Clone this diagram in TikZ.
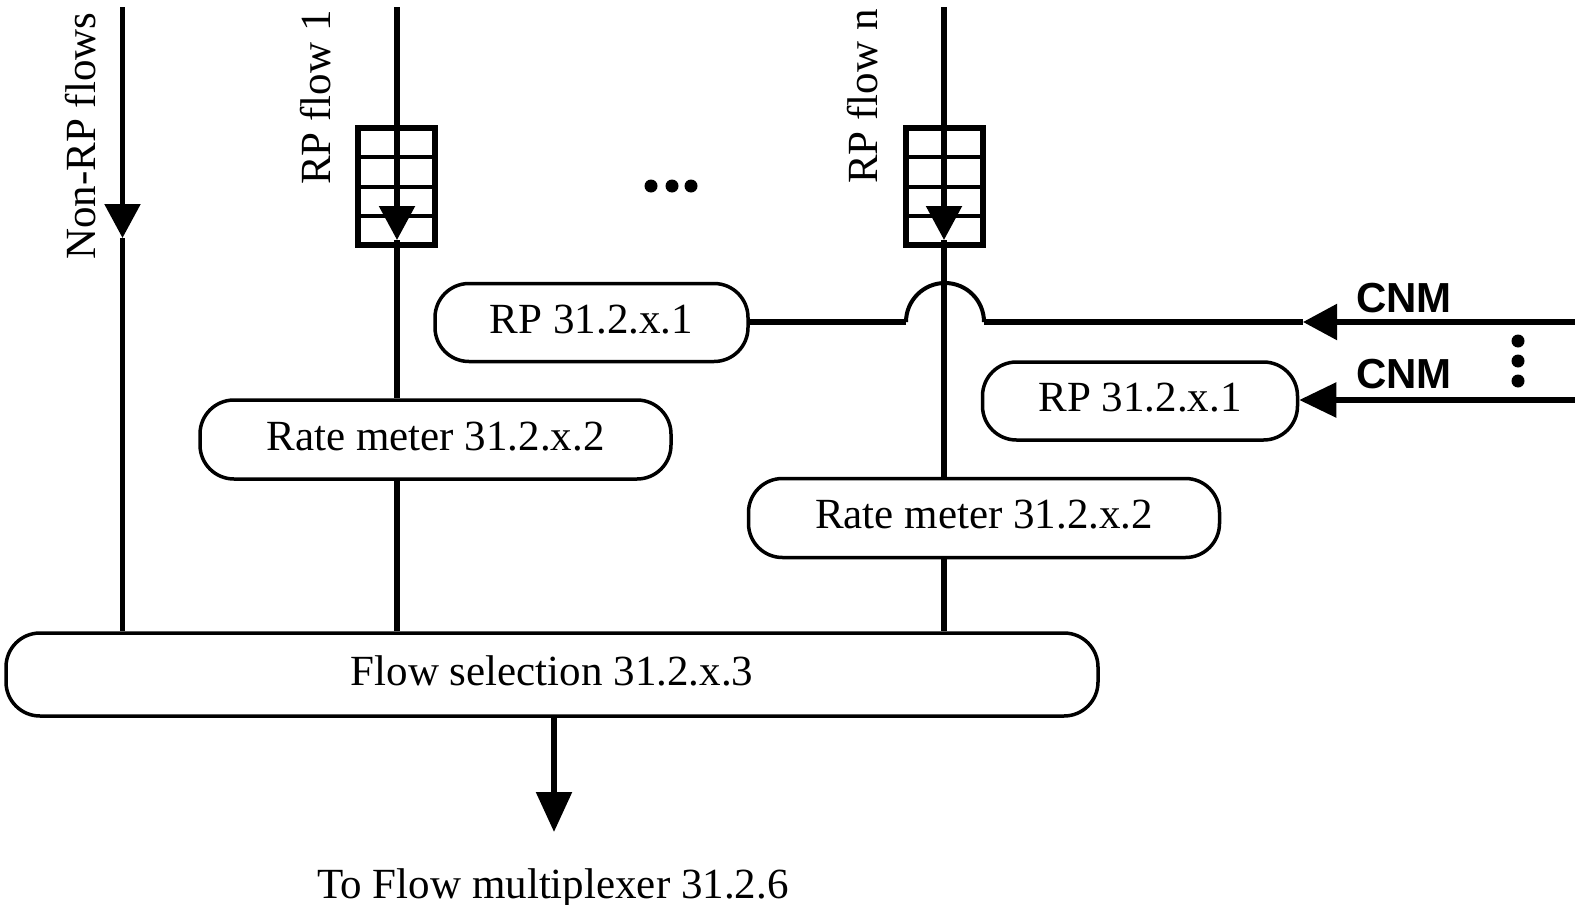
\documentclass[tikz,border=0pt]{standalone}
\usepackage{fontspec}
\setmainfont{Liberation Serif}
\setsansfont{Liberation Sans}
\usetikzlibrary{arrows.meta}
\begin{document}
\begin{tikzpicture}[x=1pt,y=1pt,
  flowline/.style={line width=5.5pt},
  blockbox/.style={draw,line width=3.5pt,rounded corners=34pt,inner sep=0pt,text depth=7pt,
    font=\fontsize{43}{50}\selectfont},
  queuebox/.style={draw,line width=6pt,minimum width=77pt,minimum height=117pt,inner sep=0pt,
    path picture={\foreach \i in {1,2,3}
      \draw[line width=4pt] ([yshift=-\i*29.25pt]path picture bounding box.north west) --
                            ([yshift=-\i*29.25pt]path picture bounding box.north east);}},
  flowlabel/.style={rotate=90,anchor=base west,inner sep=0pt,font=\fontsize{43}{50}\selectfont},
  cnmlabel/.style={anchor=base west,inner sep=0pt,font=\sffamily\bfseries\fontsize{42}{48}\selectfont},
  tipdown/.style={-{Triangle[length=34pt,width=35pt]}},
  dotmark/.style={fill=black}
]
\useasboundingbox (0,0) rectangle (1575,-905);

% blocks
\node[blockbox,minimum width=1092pt,minimum height=83pt] (fs) at (552,-674.5) {Flow selection 31.2.x.3};
\node[blockbox,minimum width=313pt,minimum height=78pt] (rp1) at (591.5,-322.5) {RP 31.2.x.1};
\node[blockbox,minimum width=315pt,minimum height=78pt] (rp2) at (1140,-401) {RP 31.2.x.1};
\node[blockbox,minimum width=471pt,minimum height=79pt] (rm1) at (435.5,-439.5) {Rate meter 31.2.x.2};
\node[blockbox,minimum width=471pt,minimum height=79pt] (rm2) at (984,-518) {Rate meter 31.2.x.2};

% queues
\node[queuebox] (q1) at (396.5,-186.5) {};
\node[queuebox] (q2) at (944.5,-186.5) {};

% coordinates
\coordinate (top0) at (122.5,-7);
\coordinate (tip0) at (122.5,-238);
\coordinate (top1) at (397,-7);
\coordinate (tip1) at (397,-240);
\coordinate (topn) at (944,-7);
\coordinate (tipn) at (944,-240);
\coordinate (cnm1start) at (1575,-322);
\coordinate (cnm1tip) at (1303,-322);
\coordinate (jumpR) at (984,-322);
\coordinate (jumpL) at (906,-322);
\coordinate (cnm2start) at (1575,-400);
\coordinate (outtip) at (554,-832);

% labels
\node[flowlabel] (l0) at (95,-260) {Non-RP flows};
\node[flowlabel] (l1) at (330,-185) {RP flow 1};
\node[flowlabel] (ln) at (877,-184) {RP flow n};

% Non-RP flows
\draw[flowline,tipdown] (top0) -- (tip0);
\draw[flowline] (tip0) -- (top0 |- fs.north);

% RP flow 1
\draw[flowline,tipdown] (top1) -- (tip1);
\draw[flowline] (tip1) -- (top1 |- rm1.north);
\draw[flowline] (top1 |- rm1.south) -- (top1 |- fs.north);

% RP flow n
\draw[flowline,tipdown] (topn) -- (tipn);
\draw[flowline] (tipn) -- (topn |- rm2.north);
\draw[flowline] (topn |- rm2.south) -- (topn |- fs.north);

% CNM 1 with jump
\draw[flowline,-{Triangle[length=34pt,width=35pt]}] (cnm1start) -- (cnm1tip);
\draw[flowline] (cnm1tip) -- (jumpR);
\draw[line width=4pt] (jumpR) arc[start angle=0,end angle=180,radius=39pt];
\draw[flowline] (jumpL) -- (rp1.east |- jumpL);

% CNM 2
\draw[flowline,-{Triangle[length=37pt,width=34pt]}] (cnm2start) -- (rp2.east |- cnm2start);

\node[cnmlabel] (c1) at (1356,-312) {CNM};
\node[cnmlabel] (c2) at (1356,-388) {CNM};

% output
\draw[flowline,-{Triangle[length=40pt,width=35pt]}] (outtip |- fs.south) -- (outtip);
\node[anchor=base,inner sep=0pt,font=\fontsize{43}{50}\selectfont] (out) at (553,-898) {To Flow multiplexer 31.2.6};

% ellipses
\fill[dotmark] (651,-186) circle[radius=6.5pt] (672,-186) circle[radius=6.5pt] (691,-186) circle[radius=6.5pt];
\fill[dotmark] (1518,-341) circle[radius=6.5pt] (1518,-361) circle[radius=6.5pt] (1518,-381) circle[radius=6.5pt];
\end{tikzpicture}
\end{document}
